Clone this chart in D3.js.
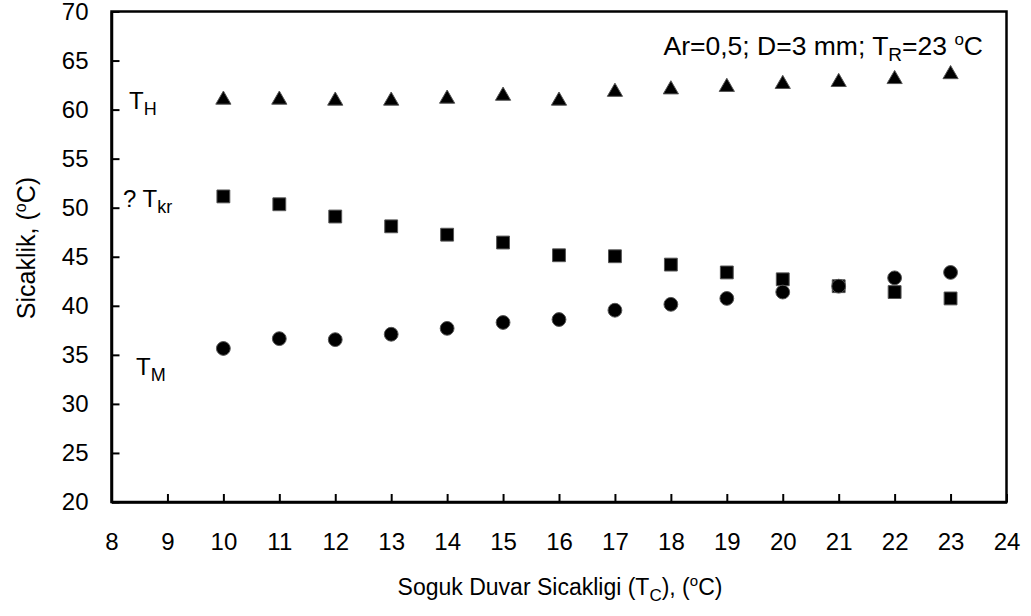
<!DOCTYPE html>
<html>
<head>
<meta charset="utf-8">
<script src="https://cdn.jsdelivr.net/npm/d3@7"></script>
<style>
  body { margin: 0; background: #fff; }
  text { font-family: "Liberation Sans", Arial, sans-serif; fill: #000; }
</style>
</head>
<body>
<div id="chart"></div>
<script>
// soguk duvar sicakligi (T_C)
const tc = [10, 11, 12, 13, 14, 15, 16, 17, 18, 19, 20, 21, 22, 23];
// T_H (triangles)
const tH = [61.0, 61.0, 60.9, 60.9, 61.1, 61.4, 60.9, 61.8, 62.05, 62.3, 62.6, 62.8, 63.1, 63.6];
// T_kr (squares)
const tKr = [51.15, 50.35, 49.1, 48.1, 47.25, 46.45, 45.15, 45.05, 44.2, 43.4, 42.7, 42.0, 41.4, 40.75];
// T_M (circles)
const tM = [35.65, 36.65, 36.55, 37.1, 37.7, 38.3, 38.6, 39.55, 40.15, 40.75, 41.4, 42.0, 42.85, 43.4];

const xTicks = d3.range(8, 25, 1);
const yTicks = d3.range(20, 71, 5);

const W = 1031, H = 616;
const x = d3.scaleLinear().domain([8, 24]).range([111.5, 1006.5]);
const y = d3.scaleLinear().domain([20, 70]).range([502, 11.5]);

const svg = d3.select("#chart").append("svg")
    .attr("width", W)
    .attr("height", H);

// frame
svg.append("rect")
    .attr("x", x(8)).attr("y", y(70))
    .attr("width", x(24) - x(8)).attr("height", y(20) - y(70))
    .attr("fill", "none").attr("stroke", "#000").attr("stroke-width", 2.5);

// axes, ticks inside
const xAxis = svg.append("g")
    .attr("transform", `translate(0,${y(20)})`)
    .call(d3.axisBottom(x).tickValues(xTicks).tickSizeInner(-8).tickSizeOuter(0).tickPadding(31));
const yAxis = svg.append("g")
    .attr("transform", `translate(${x(8)},0)`)
    .call(d3.axisLeft(y).tickValues(yTicks).tickSizeInner(-8).tickSizeOuter(0).tickPadding(23));

[xAxis, yAxis].forEach(g => {
    g.select(".domain").attr("stroke-width", 2.5);
    g.selectAll(".tick line").attr("stroke-width", 2);
    g.selectAll(".tick text").style("font-size", "24px")
        .style("font-family", "'Liberation Sans', Arial, sans-serif");
});

// series
const series = [
    { vals: tH, type: d3.symbolTriangle, size: 100 },
    { vals: tKr, type: d3.symbolSquare, size: 165 },
    { vals: tM, type: d3.symbolCircle, size: 150 }
];
series.forEach(s => {
    svg.append("g").selectAll("path")
        .data(tc.map((t, i) => [t, s.vals[i]]))
        .enter().append("path")
        .attr("transform", d => `translate(${x(d[0])},${y(d[1])})`)
        .attr("d", d3.symbol().type(s.type).size(s.size))
        .attr("fill", "#000")
        .attr("stroke", "#555")
        .attr("stroke-width", 1);
});

// series labels
function subLabel(px, py, main, sub, pre) {
    const t = svg.append("text").attr("x", px).attr("y", py).style("font-size", "24px");
    if (pre) t.append("tspan").text(pre);
    t.append("tspan").text(main);
    t.append("tspan").attr("dy", 6).style("font-size", "18px").text(sub);
    return t;
}
subLabel(129, 109, "T", "H");
subLabel(123, 207, "T", "kr", "? ");
subLabel(136, 375, "T", "M");

// annotation
const ann = svg.append("text").attr("x", 983).attr("y", 55)
    .attr("text-anchor", "end").style("font-size", "26.5px");
ann.append("tspan").text("Ar=0,5; D=3 mm; T");
ann.append("tspan").attr("dy", 6).style("font-size", "19px").text("R");
ann.append("tspan").attr("dy", -6).text("=23 ");
ann.append("tspan").attr("dy", -10).style("font-size", "17px").text("o");
ann.append("tspan").attr("dy", 10).text("C");

// x title
const xt = svg.append("text").attr("x", 560).attr("y", 595)
    .attr("text-anchor", "middle").style("font-size", "23px");
xt.append("tspan").text("Soguk Duvar Sicakligi (T");
xt.append("tspan").attr("dy", 6).style("font-size", "17px").text("C");
xt.append("tspan").attr("dy", -6).text("), (");
xt.append("tspan").attr("dy", -9).style("font-size", "15px").text("o");
xt.append("tspan").attr("dy", 9).text("C)");

// y title
const yt = svg.append("text")
    .attr("transform", `translate(35,248) rotate(-90)`)
    .attr("text-anchor", "middle").style("font-size", "25px");
yt.append("tspan").text("Sicaklik, (");
yt.append("tspan").attr("dy", -9).style("font-size", "16px").text("o");
yt.append("tspan").attr("dy", 9).text("C)");
</script>
</body>
</html>
